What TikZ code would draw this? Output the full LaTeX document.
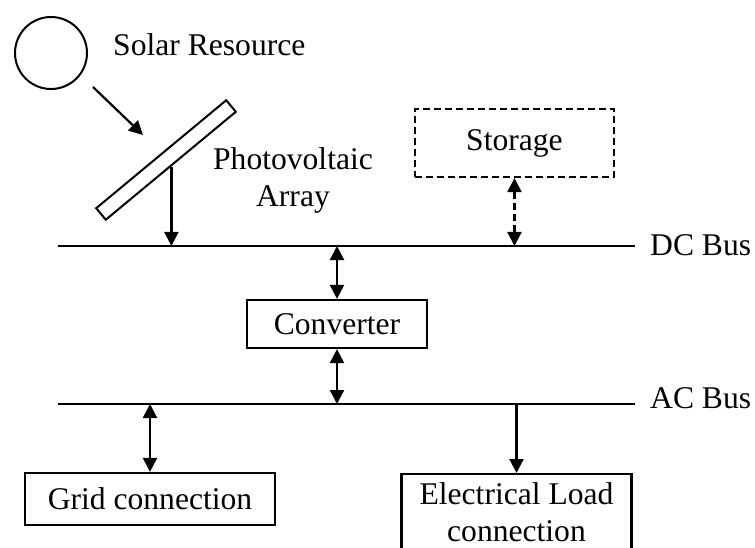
\documentclass[tikz,border=0pt]{standalone}
\usepackage{fontspec}
\setmainfont{Liberation Serif}
\usetikzlibrary{arrows.meta}
\begin{document}
\begin{tikzpicture}[x=1pt,y=-1pt,
  txt/.style={font=\fontsize{31.6}{37}\selectfont, inner sep=0pt},
  box/.style={draw, line width=2.2pt, inner sep=0pt, font=\fontsize{31.6}{37}\selectfont, align=center},
  bus/.style={line width=2.2pt},
  arr/.style={line width=2.2pt, -{Triangle[length=14pt,width=14pt]}},
  darr/.style={line width=2.2pt, {Triangle[length=14pt,width=14pt]}-{Triangle[length=14pt,width=14pt]}},
  dsh/.style={dash pattern=on 7pt off 4pt}]
\useasboundingbox (0,0) rectangle (755,548);
\clip (0,0) rectangle (755,548);
% sun
\node[circle, draw, line width=2pt, minimum size=72pt, inner sep=0pt] (sun) at (51,53) {};
\node[txt, anchor=base west] (solar) at (113,56) {Solar Resource};
\coordinate (s1) at (93,87);
\coordinate (s2) at (143,135);
\draw[arr] (s1) -- (s2);
% panel
\node[draw, line width=2pt, rotate=39.7, minimum width=169pt, minimum height=15pt, inner sep=0pt] (panel) at (166,160) {};
\node[txt, align=center, anchor=north] (pv) at (293,147.4) {Photovoltaic\\Array};
% buses
\coordinate (dcL) at (58,246);
\coordinate (dcR) at (635,246);
\coordinate (acL) at (58,404);
\coordinate (acR) at (635,404);
\draw[bus] (dcL) -- (dcR);
\draw[bus] (acL) -- (acR);
\node[txt, anchor=base west] (dclbl) at (650,255) {DC Bus};
\node[txt, anchor=base west] (aclbl) at (650,408) {AC Bus};
\draw[arr] (panel.south) -- (panel.south |- dcL);
% storage
\node[box, dsh, minimum width=199pt, minimum height=68pt] (storage) at (514.5,143) {Storage};
\draw[darr, dsh] (storage.south) -- (storage.south |- dcL);
% converter
\node[box, minimum width=180pt, minimum height=48pt] (conv) at (337,324) {Converter};
\draw[darr] (conv.north) -- (conv.north |- dcL);
\draw[darr] (conv.south) -- (conv.south |- acL);
% grid
\node[box, minimum width=250pt, minimum height=52pt] (grid) at (150,499) {Grid connection};
\draw[darr] (grid.north) -- (grid.north |- acL);
% load
\node[box, minimum width=230pt, inner ysep=8.4pt, anchor=north] (load) at (516.5,473) {Electrical Load\\connection\strut};
\draw[arr] (load.north |- acL) -- (load.north);
\end{tikzpicture}
\end{document}
